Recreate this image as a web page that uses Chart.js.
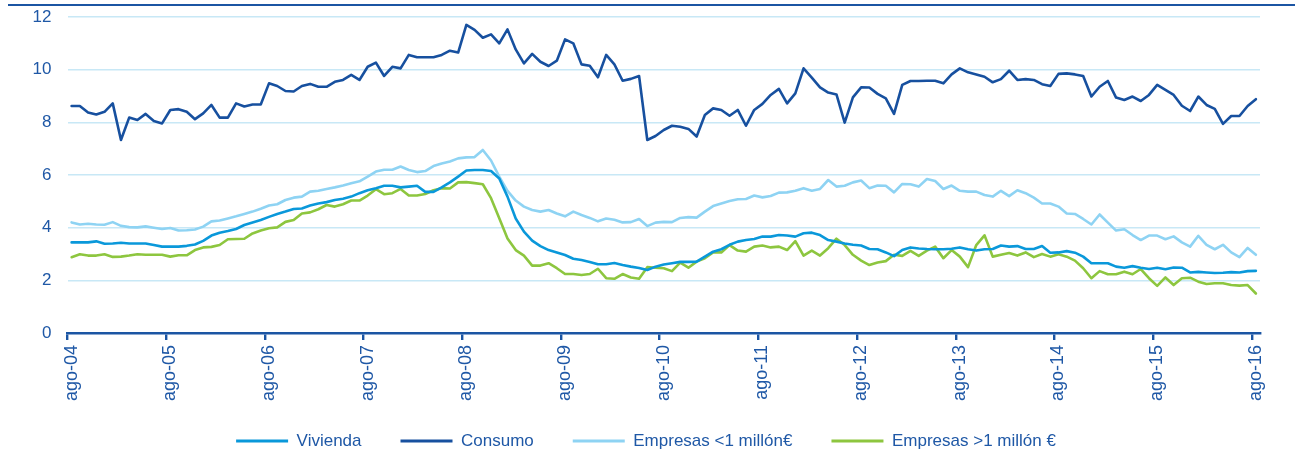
<!DOCTYPE html>
<html>
<head>
<meta charset="utf-8">
<script src="https://cdn.jsdelivr.net/npm/chart.js@4.4.0/dist/chart.umd.min.js"></script>
<style>
html,body{margin:0;padding:0;background:#fff;overflow:hidden}
#wrap{position:relative;width:1295px;height:452px}
#topline{position:absolute;left:8px;right:0;top:4px;height:2px;background:#1B55A3}
canvas{position:absolute;left:0;top:0}
</style>
</head>
<body>
<div id="wrap"><div id="topline"></div><canvas id="c" width="1295" height="452"></canvas></div>
<script>
// ---- data ----
const monthNames = ['ene','feb','mar','abr','may','jun','jul','ago','sep','oct','nov','dic'];
const startYear = 2004, startMonth = 7, monthCount = 145; // ago-04 .. ago-16
const categories = [];
for (let i = 0; i < monthCount; i++) {
  const m = (startMonth + i) % 12;
  const y = startYear + Math.floor((startMonth + i) / 12);
  categories.push(monthNames[m] + '-' + String(y % 100).padStart(2, '0'));
}

const seriesNames = ['Vivienda', 'Consumo', 'Empresas <1 millón€', 'Empresas >1 millón €'];

const vivienda = [
  3.44,3.44,3.44,3.48,3.39,3.40,3.43,3.40,3.40,3.40,3.34,3.28,
  3.28,3.28,3.31,3.36,3.50,3.70,3.81,3.87,3.95,4.10,4.20,4.29,
  4.41,4.52,4.61,4.71,4.73,4.84,4.92,4.97,5.05,5.10,5.18,5.31,
  5.42,5.50,5.59,5.59,5.53,5.56,5.59,5.36,5.36,5.53,5.72,5.94,
  6.17,6.19,6.19,6.15,5.87,5.18,4.35,3.85,3.51,3.30,3.15,3.06,
  2.96,2.82,2.77,2.70,2.61,2.61,2.66,2.58,2.52,2.47,2.39,2.52,
  2.60,2.65,2.70,2.70,2.71,2.90,3.09,3.18,3.35,3.47,3.53,3.57,
  3.66,3.66,3.72,3.70,3.66,3.79,3.81,3.72,3.53,3.47,3.40,3.35,
  3.32,3.19,3.18,3.06,2.92,3.15,3.25,3.21,3.19,3.18,3.18,3.20,
  3.25,3.18,3.13,3.18,3.19,3.32,3.28,3.30,3.19,3.19,3.30,3.05,
  3.06,3.11,3.05,2.90,2.65,2.65,2.65,2.52,2.48,2.54,2.48,2.43,
  2.48,2.42,2.49,2.48,2.30,2.32,2.30,2.28,2.29,2.31,2.30,2.35,
  2.36
];

const consumo = [
  8.62,8.62,8.37,8.30,8.40,8.72,7.33,8.18,8.09,8.32,8.05,7.96,
  8.47,8.50,8.40,8.12,8.34,8.66,8.18,8.18,8.72,8.60,8.68,8.68,
  9.48,9.38,9.19,9.17,9.38,9.46,9.35,9.35,9.54,9.61,9.80,9.61,
  10.11,10.27,9.76,10.11,10.05,10.56,10.47,10.47,10.47,10.56,10.72,10.65,
  11.70,11.51,11.21,11.34,11.00,11.53,10.77,10.24,10.60,10.30,10.14,10.34,
  11.15,11.00,10.20,10.15,9.71,10.56,10.20,9.58,9.65,9.76,7.33,7.48,
  7.71,7.87,7.83,7.75,7.46,8.28,8.53,8.47,8.25,8.47,7.87,8.47,
  8.70,9.04,9.27,8.72,9.10,10.05,9.70,9.33,9.13,9.06,7.99,8.95,
  9.33,9.32,9.08,8.91,8.32,9.42,9.57,9.57,9.58,9.58,9.48,9.82,
  10.05,9.90,9.82,9.73,9.52,9.64,9.96,9.61,9.64,9.61,9.45,9.38,
  9.84,9.86,9.82,9.76,8.98,9.35,9.57,8.94,8.85,8.98,8.81,9.04,
  9.42,9.23,9.04,8.63,8.43,8.98,8.66,8.51,7.94,8.24,8.24,8.62,
  8.88
];

const empresasMenos1 = [
  4.20,4.12,4.15,4.12,4.11,4.21,4.07,4.02,4.01,4.05,4.00,3.95,
  3.99,3.89,3.90,3.93,4.04,4.24,4.27,4.35,4.43,4.52,4.61,4.72,
  4.84,4.89,5.05,5.14,5.18,5.37,5.40,5.47,5.53,5.60,5.69,5.76,
  5.94,6.13,6.20,6.20,6.32,6.19,6.11,6.15,6.34,6.44,6.51,6.63,
  6.67,6.68,6.95,6.55,5.94,5.40,5.03,4.80,4.67,4.61,4.67,4.54,
  4.43,4.61,4.48,4.37,4.24,4.35,4.30,4.20,4.21,4.33,4.06,4.19,
  4.22,4.21,4.37,4.40,4.38,4.61,4.82,4.92,5.01,5.08,5.09,5.22,
  5.15,5.20,5.33,5.34,5.40,5.50,5.40,5.47,5.81,5.56,5.59,5.72,
  5.79,5.50,5.60,5.59,5.34,5.66,5.65,5.56,5.85,5.77,5.47,5.60,
  5.40,5.37,5.37,5.24,5.18,5.40,5.20,5.42,5.31,5.14,4.92,4.92,
  4.80,4.54,4.52,4.33,4.12,4.50,4.19,3.89,3.94,3.72,3.53,3.70,
  3.70,3.56,3.67,3.44,3.28,3.69,3.35,3.18,3.35,3.06,2.88,3.23,
  2.97
];

const empresasMas1 = [
  2.88,2.99,2.94,2.94,2.99,2.89,2.90,2.94,2.99,2.97,2.97,2.97,
  2.90,2.95,2.95,3.15,3.25,3.27,3.34,3.56,3.57,3.58,3.78,3.89,
  3.98,4.01,4.22,4.29,4.54,4.58,4.70,4.86,4.80,4.89,5.03,5.03,
  5.22,5.46,5.27,5.31,5.47,5.22,5.22,5.28,5.42,5.50,5.49,5.72,
  5.73,5.69,5.65,5.12,4.36,3.59,3.15,2.94,2.56,2.56,2.65,2.46,
  2.24,2.24,2.20,2.24,2.44,2.08,2.06,2.24,2.11,2.06,2.50,2.48,
  2.46,2.35,2.67,2.48,2.71,2.84,3.06,3.06,3.34,3.13,3.09,3.28,
  3.32,3.25,3.28,3.15,3.49,2.94,3.13,2.94,3.22,3.58,3.34,2.97,
  2.75,2.58,2.68,2.73,2.97,2.93,3.12,2.93,3.13,3.28,2.84,3.15,
  2.90,2.50,3.34,3.71,2.90,2.97,3.04,2.94,3.06,2.88,3.00,2.90,
  2.99,2.90,2.75,2.46,2.08,2.35,2.23,2.23,2.33,2.23,2.43,2.08,
  1.79,2.11,1.82,2.08,2.10,1.95,1.86,1.89,1.89,1.82,1.80,1.82,
  1.50
];

const yTicks = [0, 2, 4, 6, 8, 10, 12];

// ---- styles ----
const COLORS = ['#0A98DA', '#17509F', '#8ED3F3', '#8DC63F'];
const TXT = '#1F58A6';
const AXIS = '#1B55A3';
const GRID = '#C8E8F6';
const FONT = '"Liberation Sans", Arial, sans-serif';
const CANVAS_H = 452;
const X_AXIS_H = 72;
const LEGEND_H = 47;
const LEGEND_TOP = 393.5;

const legendFix = {
  id: 'legendFix',
  beforeLayout(chart) {
    const lg = chart.legend;
    if (lg && !lg._hFixed) {
      const f = lg.fit;
      lg.fit = function () { f.call(this); this.height = LEGEND_H; };
      lg._hFixed = true;
    }
  },
  afterLayout(chart) {
    const lg = chart.legend;
    if (lg) {
      lg.top = LEGEND_TOP;
      lg.bottom = CANVAS_H;
      lg.height = CANVAS_H - LEGEND_TOP;
    }
  }
};

const seriesData = [vivienda, consumo, empresasMenos1, empresasMas1];

new Chart(document.getElementById('c'), {
  type: 'line',
  data: {
    labels: categories,
    datasets: seriesData.map((d, i) => ({
      label: seriesNames[i],
      data: d,
      borderColor: COLORS[i],
      backgroundColor: COLORS[i],
      borderWidth: 2.6,
      pointRadius: 0,
      tension: 0,
      fill: false,
      borderJoinStyle: 'round',
      borderCapStyle: 'round'
    }))
  },
  plugins: [legendFix],
  options: {
    responsive: false,
    animation: false,
    devicePixelRatio: 1,
    layout: { padding: { left: 32, right: 35, top: 17, bottom: 0 } },
    plugins: {
      tooltip: { enabled: false },
      legend: {
        position: 'bottom',
        labels: {
          boxWidth: 52,
          boxHeight: 3,
          padding: 39,
          color: TXT,
          font: { family: FONT, size: 17 },
          generateLabels(chart) {
            return chart.data.datasets.map((ds, i) => ({
              text: ds.label,
              fillStyle: ds.borderColor,
              strokeStyle: ds.borderColor,
              lineWidth: 0,
              hidden: false,
              datasetIndex: i,
              fontColor: TXT
            }));
          }
        }
      }
    },
    scales: {
      x: {
        offset: true,
        grid: {
          offset: true,
          drawOnChartArea: false,
          drawTicks: true,
          tickLength: 7,
          lineWidth: 2.4,
          color: c => (c.index % 12 === 0 ? AXIS : 'rgba(0,0,0,0)'),
          tickColor: c => (c.index % 12 === 0 ? AXIS : 'rgba(0,0,0,0)')
        },
        border: { display: true, color: AXIS, width: 2.5 },
        ticks: {
          autoSkip: false,
          maxRotation: 90,
          minRotation: 90,
          padding: 5,
          color: TXT,
          font: { family: FONT, size: 18 },
          callback(v, i) { return i % 12 === 0 ? this.getLabelForValue(v) : ''; }
        },
        afterFit(s) { s.height = X_AXIS_H; s.paddingLeft = 0; s.paddingRight = 0; }
      },
      y: {
        min: yTicks[0],
        max: yTicks[yTicks.length - 1],
        afterBuildTicks(s) { s.ticks = yTicks.map(v => ({ value: v })); },
        grid: { color: GRID, lineWidth: 1.6, drawTicks: false },
        border: { display: false },
        ticks: {
          padding: 16,
          color: TXT,
          font: { family: FONT, size: 17 }
        },
        afterFit(s) { s.width = 35.5; s.paddingTop = 0; s.paddingBottom = 0; }
      }
    }
  }
});
</script>
</body>
</html>
